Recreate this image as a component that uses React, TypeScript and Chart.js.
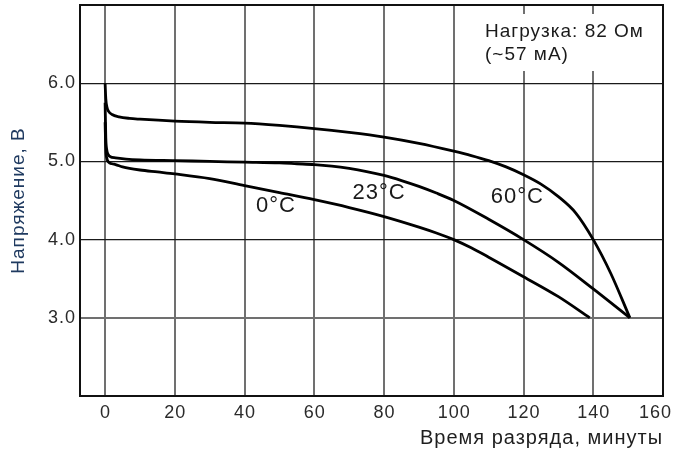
import { useEffect, useRef } from "react";
import { Chart, registerables } from "chart.js";

Chart.register(...registerables);

// ---- data ----
const xTicks = [0, 20, 40, 60, 80, 100, 120, 140, 160];
const yTicks = [3, 4, 5, 6];

const t0 = [0, 0.2, 0.5, 1, 2, 3, 5, 7, 10, 15, 20, 30, 40, 50, 60, 70, 80, 90, 95, 100, 105, 110, 120, 130, 139];
const v0 = [5.5, 5.15, 5.04, 4.99, 4.97, 4.96, 4.93, 4.91, 4.89, 4.865, 4.84, 4.78, 4.69, 4.6, 4.51, 4.41, 4.295, 4.16, 4.085, 4.0, 3.895, 3.775, 3.525, 3.27, 3.0];

const t23 = [0, 0.2, 0.5, 1, 1.5, 3, 6, 10, 20, 30, 40, 50, 55, 60, 65, 70, 75, 80, 85, 90, 95, 100, 110, 120, 130, 140, 150.5];
const v23 = [5.75, 5.3, 5.14, 5.08, 5.06, 5.045, 5.03, 5.02, 5.01, 5.0, 4.99, 4.98, 4.97, 4.96, 4.94, 4.91, 4.87, 4.82, 4.755, 4.68, 4.595, 4.5, 4.26, 4.0, 3.71, 3.37, 3.0];

const t60 = [0, 0.2, 0.5, 1, 2, 4, 7, 10, 20, 30, 40, 50, 60, 70, 80, 90, 100, 105, 110, 115, 120, 125, 130, 135, 140, 145, 150.5];
const v60 = [6.0, 5.8, 5.7, 5.64, 5.6, 5.57, 5.55, 5.54, 5.515, 5.5, 5.49, 5.46, 5.42, 5.37, 5.31, 5.23, 5.13, 5.075, 5.01, 4.93, 4.83, 4.71, 4.55, 4.34, 4.0, 3.57, 3.0];

const seriesNames = ["0°C", "23°C", "60°C"];
const labelX = [49, 78.6, 118.2];
const labelY = [4.43, 4.6, 4.54];

const yTitle = "Напряжение, В";
const xTitle = "Время разряда, минуты";
const noteLines = ["Нагрузка: 82 Ом", "(~57 мА)"];

const FONT = "'Liberation Sans', Arial, sans-serif";

const toPoints = (t: number[], v: number[]) => t.map((x, i) => ({ x, y: v[i] }));

const zeroPad = (s: any) => {
  s.paddingTop = 0;
  s.paddingBottom = 0;
  s.paddingLeft = 0;
  s.paddingRight = 0;
};

export default function App() {
  const ref = useRef<HTMLCanvasElement>(null);

  useEffect(() => {
    document.body.style.margin = "0";
    const canvas = ref.current!;

    const spacingPlugin = {
      id: "spacing",
      beforeDraw(chart: any) {
        chart.ctx.letterSpacing = "1px";
      },
    };

    const framePlugin = {
      id: "frame",
      afterDatasetsDraw(chart: any) {
        const { ctx, chartArea: a, scales } = chart;
        ctx.save();
        // frame
        ctx.strokeStyle = "#111";
        ctx.lineWidth = 2;
        ctx.beginPath();
        ctx.moveTo(a.left, a.bottom);
        ctx.lineTo(a.left, a.top);
        ctx.lineTo(a.right, a.top);
        ctx.lineTo(a.right, a.bottom);
        ctx.stroke();
        // x tick labels (last one kept inside the canvas)
        ctx.fillStyle = "#2a2a2a";
        ctx.font = `18px ${FONT}`;
        ctx.textBaseline = "middle";
        xTicks.forEach((v) => {
          const px = scales.x.getPixelForValue(v);
          const w = ctx.measureText(String(v)).width;
          const maxRight = chart.width - 1;
          if (px + w / 2 > maxRight) {
            ctx.textAlign = "right";
            ctx.fillText(String(v), maxRight, a.bottom + 17);
          } else {
            ctx.textAlign = "center";
            ctx.fillText(String(v), px + 0.5, a.bottom + 17);
          }
        });
        // series labels
        ctx.fillStyle = "#1a1a1a";
        ctx.font = `22px ${FONT}`;
        ctx.textAlign = "center";
        ctx.textBaseline = "middle";
        seriesNames.forEach((n, i) => {
          ctx.fillText(n, scales.x.getPixelForValue(labelX[i]), scales.y.getPixelForValue(labelY[i]));
        });
        // load note
        const bx = a.right - 185;
        const by = a.top + 9;
        ctx.fillStyle = "#fff";
        ctx.fillRect(bx, by, 174, 57);
        ctx.fillStyle = "#1a1a1a";
        ctx.font = `19px ${FONT}`;
        ctx.textAlign = "left";
        ctx.textBaseline = "alphabetic";
        noteLines.forEach((l, i) => ctx.fillText(l, bx + 7, by + 23 + i * 23));
        ctx.restore();
      },
    };

    const chart = new Chart(canvas, {
      type: "line",
      data: {
        datasets: [
          { label: seriesNames[0], data: toPoints(t0, v0) },
          { label: seriesNames[1], data: toPoints(t23, v23) },
          { label: seriesNames[2], data: toPoints(t60, v60) },
        ].map((d) => ({
          ...d,
          borderColor: "#000",
          borderWidth: 2.8,
          pointRadius: 0,
          fill: false,
          cubicInterpolationMode: "monotone" as const,
        })),
      },
      options: {
        animation: false,
        responsive: true,
        maintainAspectRatio: false,
        layout: { padding: { top: 5, right: 10, left: 0, bottom: 0 } },
        plugins: { legend: { display: false }, tooltip: { enabled: false } },
        scales: {
          x: {
            type: "linear",
            min: -7.2,
            max: 160,
            afterBuildTicks: (s: any) => {
              s.ticks = xTicks.map((value) => ({ value }));
            },
            afterFit: (s: any) => {
              s.height = 61;
              zeroPad(s);
            },
            grid: {
              drawTicks: false,
              color: (c: any) => (c.tick && c.tick.value === 160 ? "#111" : "#707070"),
              lineWidth: 2,
            },
            border: { display: true, color: "#111", width: 2 },
            ticks: { display: false },
            title: {
              display: true,
              text: xTitle,
              align: "end",
              color: "#1e1e1e",
              font: { family: FONT, size: 20 },
              padding: { top: 0, bottom: 7 },
            },
          },
          y: {
            type: "linear",
            min: 2,
            max: 7,
            afterBuildTicks: (s: any) => {
              s.ticks = yTicks.map((value) => ({ value }));
            },
            afterFit: (s: any) => {
              s.width = 80;
              zeroPad(s);
            },
            grid: {
              drawTicks: false,
              color: (c: any) => (c.tick && c.tick.value === 3 ? "#707070" : "#1a1a1a"),
              lineWidth: (c: any) => (c.tick && c.tick.value === 3 ? 2 : 1.3),
            },
            border: { display: true, color: "#111", width: 2 },
            ticks: {
              padding: 4,
              color: "#2a2a2a",
              font: { family: FONT, size: 18 },
              callback: (v: any) => Number(v).toFixed(1),
            },
            title: {
              display: true,
              text: yTitle,
              color: "#1f3a60",
              font: { family: FONT, size: 19 },
              padding: { top: 7, bottom: 0 },
            },
          },
        },
      },
      plugins: [spacingPlugin, framePlugin],
    });

    return () => chart.destroy();
  }, []);

  return (
    <div style={{ position: "relative", width: 673, height: 457 }}>
      <canvas ref={ref} />
    </div>
  );
}
